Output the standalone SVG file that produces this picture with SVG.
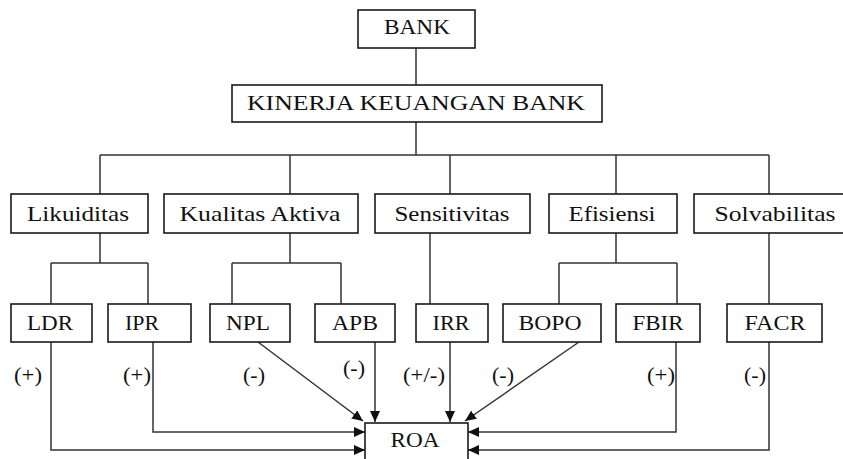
<svg xmlns="http://www.w3.org/2000/svg" width="843" height="459" viewBox="0 0 843 459">
<style>
.box{fill:#fff;stroke:#1a1a1a;stroke-width:1.6}
.t{font-family:'Liberation Serif','Times New Roman',serif;fill:#111;text-anchor:middle}
.c{fill:none;stroke:#333;stroke-width:1.5}
.a{fill:none;stroke:#333;stroke-width:1.5;marker-end:url(#arr)}
</style>
<defs>
<marker id="arr" markerUnits="userSpaceOnUse" markerWidth="12" markerHeight="10" refX="11" refY="5" orient="auto">
<path d="M0,0 L11,5 L0,10 Z" fill="#111"/>
</marker>
</defs>
<rect width="843" height="459" fill="#fff"/>
<g id="connectors">
<path class="c" d="M416,48 V85"/>
<path class="c" d="M416,122 V155 M100,155 H769 M100,155 V194 M290,155 V194 M450,155 V194 M616,155 V194 M769,155 V194"/>
<path class="c" d="M100,233 V263 M51,263 H148 M51,263 V304 M148,263 V304"/>
<path class="c" d="M290,233 V263 M232,263 H341 M232,263 V304 M341,263 V304"/>
<path class="c" d="M430,233 V304"/>
<path class="c" d="M616,233 V263 M559,263 H677 M559,263 V304 M677,263 V304"/>
<path class="c" d="M769,233 V304"/>
<path class="a" d="M51,342 V450 H365"/>
<path class="a" d="M153,342 V432 H365"/>
<path class="a" d="M258,342 L363,421"/>
<path class="a" d="M375,342 V422"/>
<path class="a" d="M450,342 V422"/>
<path class="a" d="M579,342 L465,421"/>
<path class="a" d="M676,342 V432 H468"/>
<path class="a" d="M769,342 V450 H468"/>
</g>
<g id="bank"><rect class="box" x="358" y="10" width="117" height="38"/><text class="t" x="417" y="34" font-size="20" textLength="66" lengthAdjust="spacingAndGlyphs">BANK</text></g>
<g id="kinerja"><rect class="box" x="232" y="85" width="370" height="37"/><text class="t" x="416" y="110" font-size="22" textLength="338" lengthAdjust="spacingAndGlyphs">KINERJA KEUANGAN BANK</text></g>
<g id="likuiditas"><rect class="box" x="11" y="194" width="137" height="39"/><text class="t" x="78" y="221" font-size="22" textLength="102" lengthAdjust="spacingAndGlyphs">Likuiditas</text></g>
<g id="kualitas"><rect class="box" x="164" y="194" width="194" height="39"/><text class="t" x="260" y="221" font-size="22" textLength="161" lengthAdjust="spacingAndGlyphs">Kualitas Aktiva</text></g>
<g id="sensitivitas"><rect class="box" x="375" y="194" width="155" height="39"/><text class="t" x="452" y="221" font-size="22" textLength="115" lengthAdjust="spacingAndGlyphs">Sensitivitas</text></g>
<g id="efisiensi"><rect class="box" x="549" y="194" width="128" height="39"/><text class="t" x="612" y="221" font-size="22" textLength="87" lengthAdjust="spacingAndGlyphs">Efisiensi</text></g>
<g id="solvabilitas"><rect class="box" x="694" y="194" width="160" height="39"/><text class="t" x="775" y="221" font-size="22" textLength="121" lengthAdjust="spacingAndGlyphs">Solvabilitas</text></g>
<g id="ldr"><rect class="box" x="11" y="304" width="81" height="38"/><text class="t" x="50" y="330" font-size="20" textLength="46" lengthAdjust="spacingAndGlyphs">LDR</text></g>
<g id="ipr"><rect class="box" x="108" y="304" width="83" height="38"/><text class="t" x="142" y="330" font-size="20" textLength="34" lengthAdjust="spacingAndGlyphs">IPR</text></g>
<g id="npl"><rect class="box" x="210" y="304" width="80" height="38"/><text class="t" x="248" y="330" font-size="20" textLength="44" lengthAdjust="spacingAndGlyphs">NPL</text></g>
<g id="apb"><rect class="box" x="315" y="304" width="80" height="38"/><text class="t" x="355" y="330" font-size="20" textLength="46" lengthAdjust="spacingAndGlyphs">APB</text></g>
<g id="irr"><rect class="box" x="416" y="304" width="72" height="38"/><text class="t" x="451" y="330" font-size="20" textLength="37" lengthAdjust="spacingAndGlyphs">IRR</text></g>
<g id="bopo"><rect class="box" x="503" y="304" width="98" height="38"/><text class="t" x="550" y="330" font-size="20" textLength="63" lengthAdjust="spacingAndGlyphs">BOPO</text></g>
<g id="fbir"><rect class="box" x="616" y="304" width="84" height="38"/><text class="t" x="658" y="330" font-size="20" textLength="51" lengthAdjust="spacingAndGlyphs">FBIR</text></g>
<g id="facr"><rect class="box" x="727" y="304" width="95" height="38"/><text class="t" x="775" y="330" font-size="20" textLength="61" lengthAdjust="spacingAndGlyphs">FACR</text></g>
<g id="roa"><rect class="box" x="365" y="423" width="103" height="50"/><text class="t" x="415" y="447" font-size="20" textLength="49" lengthAdjust="spacingAndGlyphs">ROA</text></g>
<g id="labels">
<text class="t" x="28" y="382" font-size="20" textLength="28" lengthAdjust="spacingAndGlyphs">(+)</text>
<text class="t" x="137" y="382" font-size="20" textLength="28" lengthAdjust="spacingAndGlyphs">(+)</text>
<text class="t" x="254" y="382" font-size="20" textLength="22" lengthAdjust="spacingAndGlyphs">(-)</text>
<text class="t" x="354" y="375" font-size="20" textLength="22" lengthAdjust="spacingAndGlyphs">(-)</text>
<text class="t" x="424" y="382" font-size="20" textLength="42" lengthAdjust="spacingAndGlyphs">(+/-)</text>
<text class="t" x="503" y="382" font-size="20" textLength="22" lengthAdjust="spacingAndGlyphs">(-)</text>
<text class="t" x="661" y="382" font-size="20" textLength="28" lengthAdjust="spacingAndGlyphs">(+)</text>
<text class="t" x="755" y="382" font-size="20" textLength="22" lengthAdjust="spacingAndGlyphs">(-)</text>
</g>
</svg>
